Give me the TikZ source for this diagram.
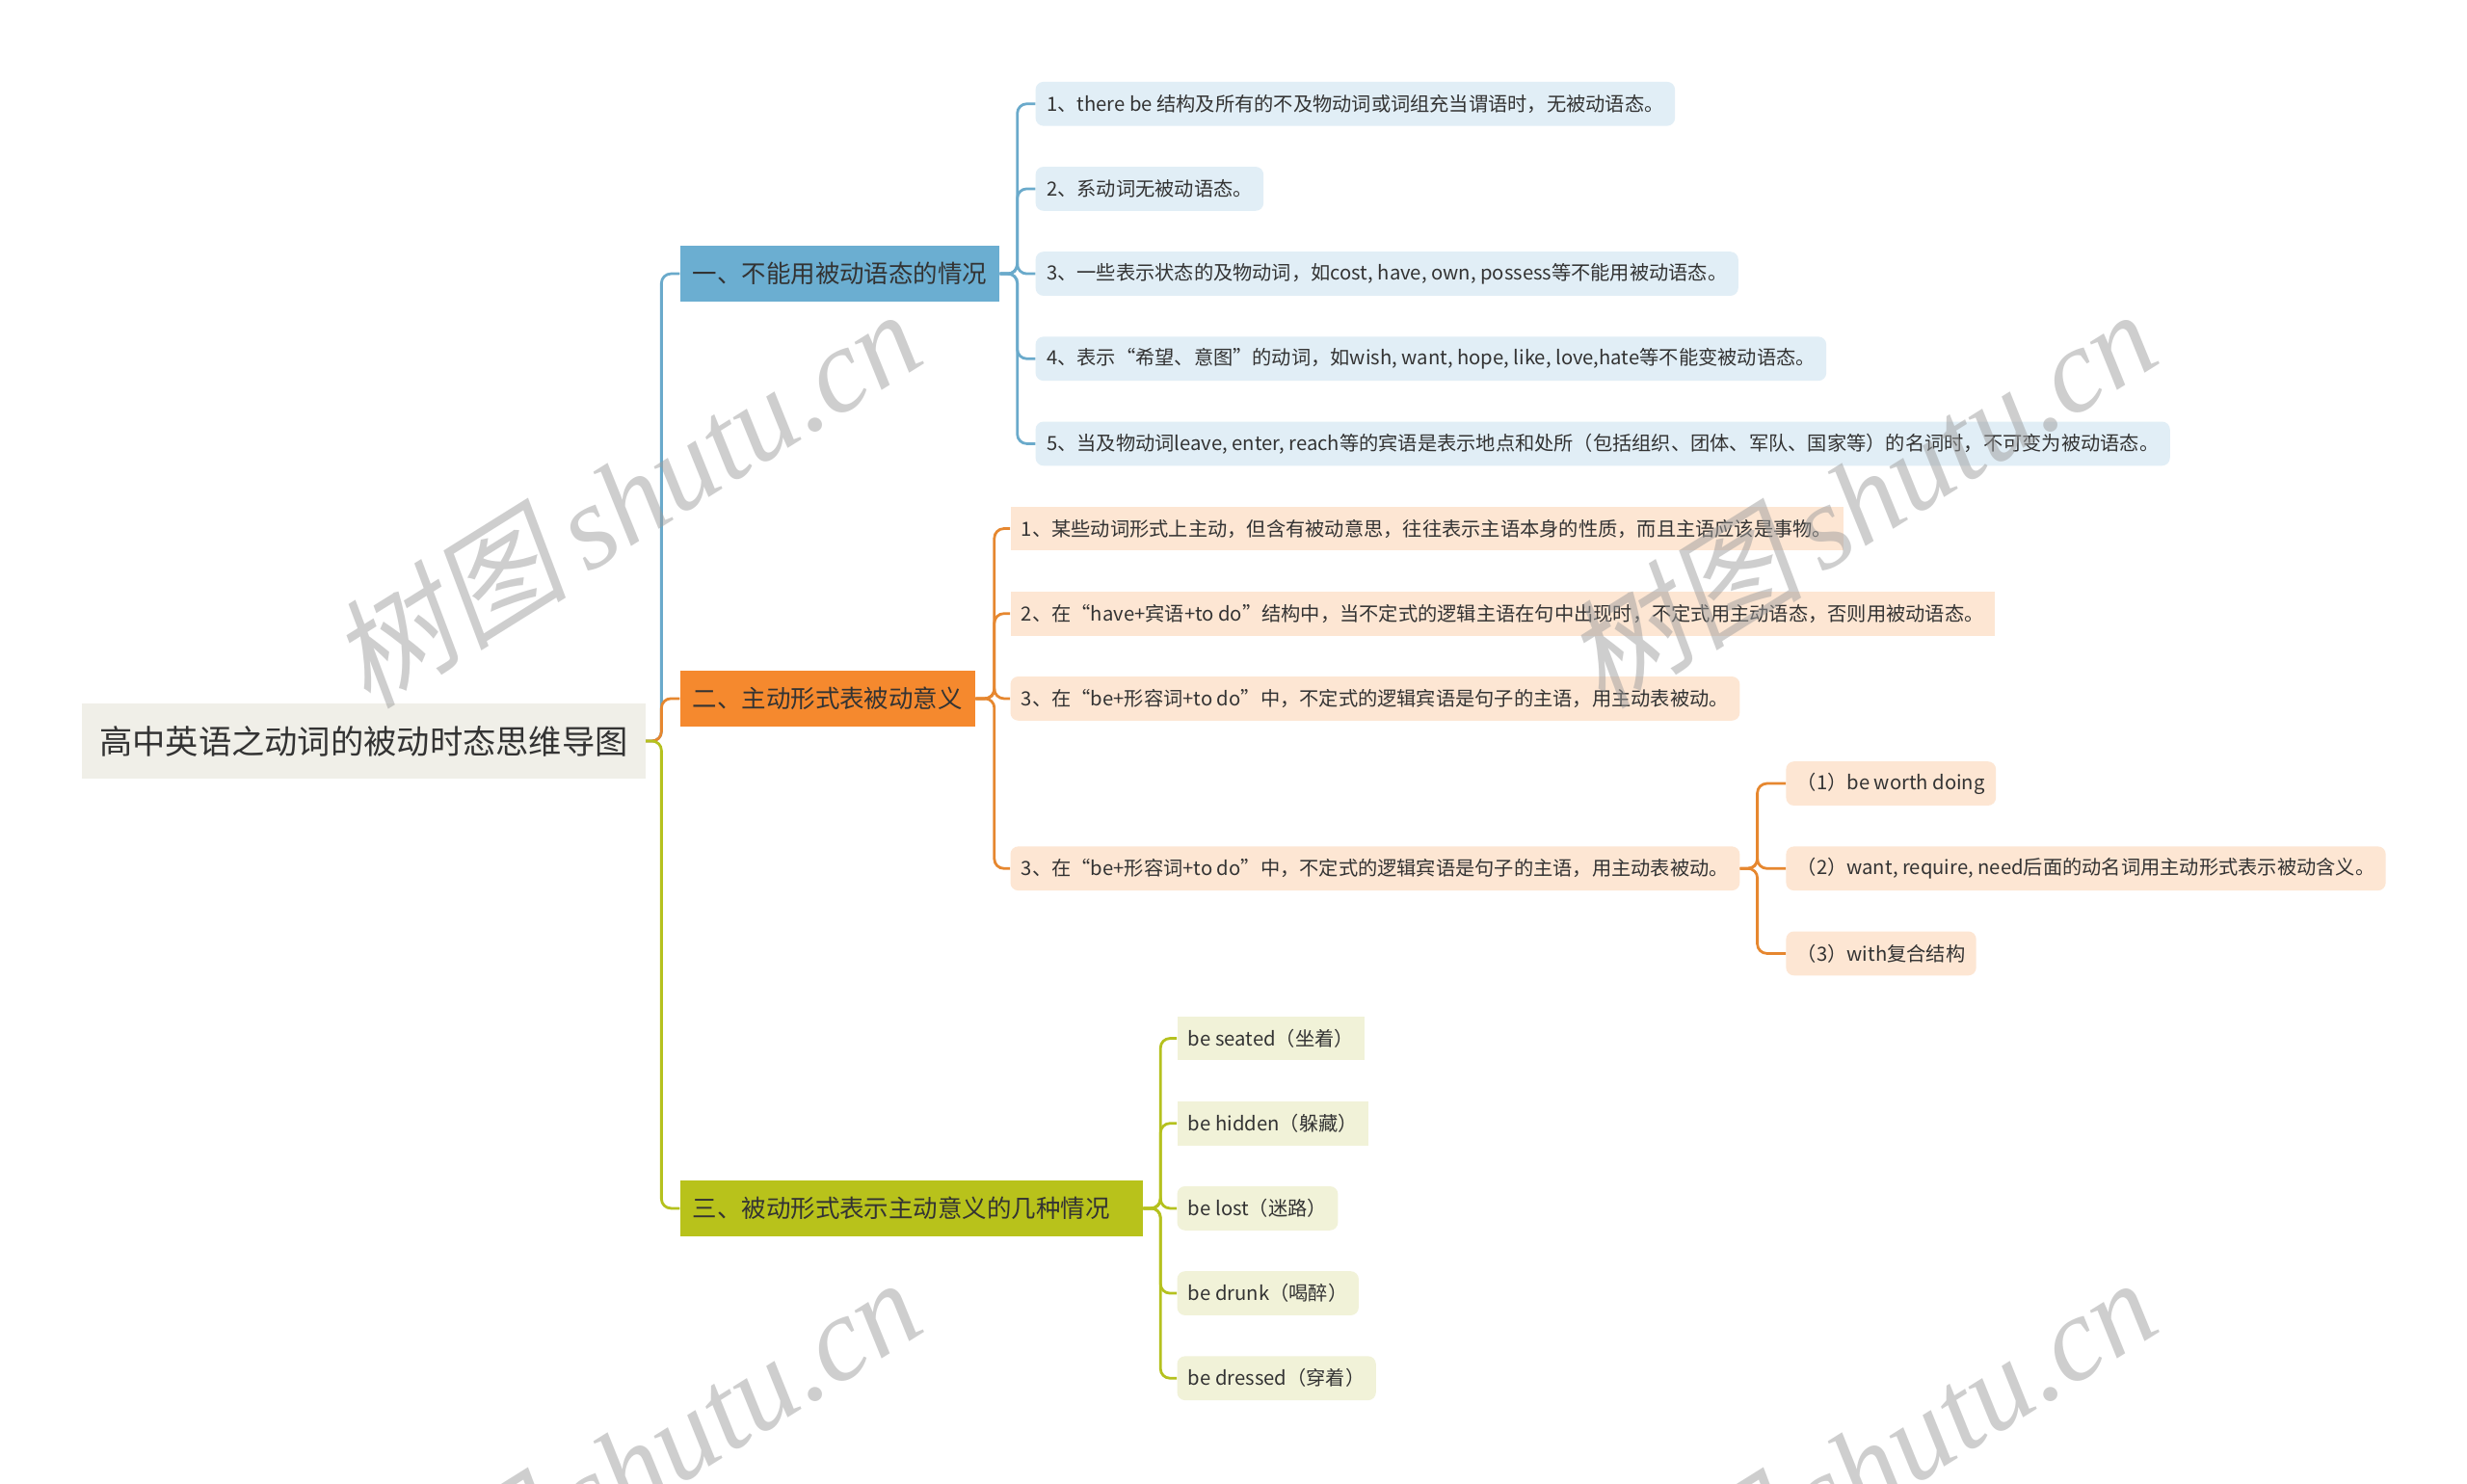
\documentclass[tikz,border=0pt]{standalone}
\usepackage{fontspec}
\setmainfont{Noto Sans CJK SC}
\newfontfamily\wmlatin{Liberation Serif}
\newfontfamily\wmcjk{Noto Sans CJK SC}[FakeSlant=0.2]
\definecolor{rootbg}{HTML}{F0EFE8}
\definecolor{bluebr}{HTML}{6BAED1}
\definecolor{bluech}{HTML}{E1EEF6}
\definecolor{bluel}{HTML}{6AAACB}
\definecolor{orgbr}{HTML}{F5892E}
\definecolor{orgch}{HTML}{FDE6D3}
\definecolor{orgl}{HTML}{E6872F}
\definecolor{olvbr}{HTML}{B8C21B}
\definecolor{olvch}{HTML}{F1F2D8}
\definecolor{olvl}{HTML}{B5C11E}
\definecolor{txt}{HTML}{333333}
\definecolor{wm}{HTML}{9E9E9E}
\tikzset{
  rootbox/.style={anchor=west, fill=rootbg, minimum height=48pt, inner xsep=11pt, inner ysep=0pt, text=txt, font=\fontsize{21}{24}\selectfont},
  brbox/.style={anchor=west, fill=#1, minimum height=36pt, inner xsep=8pt, inner ysep=0pt, text=txt, font=\fontsize{15.6}{18}\selectfont},
  chbox/.style={anchor=west, fill=#1, minimum height=28pt, inner xsep=7pt, inner ysep=0pt, rounded corners=5pt, text=txt, font=\fontsize{12.4}{14}\selectfont},
  sqbox/.style={chbox=#1, rounded corners=0pt},
  conn/.style={draw=#1, line width=1.7pt, rounded corners=6pt},
  wmark/.style={rotate=32, text=wm, text opacity=0.5}
}
\begin{document}
\begin{tikzpicture}[x=1pt,y=-1pt]
\useasboundingbox (0,0) rectangle (1568,943);
\fill[white] (0,0) rectangle (1568,943);

% root and branches
\node[rootbox] (root) at (52,471) {高中英语之动词的被动时态思维导图};
\node[brbox=bluebr] (b1) at (432,174) {一、不能用被动语态的情况};
\node[brbox=orgbr] (b2) at (432,444) {二、主动形式表被动意义};
\node[brbox=olvbr] (b3) at (432,768) {三、被动形式表示主动意义的几种情况\kern13pt\null};

% blue children
\node[chbox=bluech] (c11) at (658,66) {1、there be 结构及所有的不及物动词或词组充当谓语时，无被动语态。};
\node[chbox=bluech] (c12) at (658,120) {2、系动词无被动语态。};
\node[chbox=bluech] (c13) at (658,174) {3、一些表示状态的及物动词，如cost, have, own, possess等不能用被动语态。};
\node[chbox=bluech] (c14) at (658,228) {4、表示“希望、意图”的动词，如wish, want, hope, like, love,hate等不能变被动语态。};
\node[chbox=bluech] (c15) at (658,282) {5、当及物动词leave, enter, reach等的宾语是表示地点和处所（包括组织、团体、军队、国家等）的名词时，不可变为被动语态。};

% orange children
\node[sqbox=orgch] (c21) at (642,336) {1、某些动词形式上主动，但含有被动意思，往往表示主语本身的性质，而且主语应该是事物。};
\node[sqbox=orgch] (c22) at (642,390) {2、在“have+宾语+to do”结构中，当不定式的逻辑主语在句中出现时，不定式用主动语态，否则用被动语态。};
\node[chbox=orgch] (c23) at (642,444) {3、在“be+形容词+to do”中，不定式的逻辑宾语是句子的主语，用主动表被动。};
\node[chbox=orgch] (c24) at (642,552) {3、在“be+形容词+to do”中，不定式的逻辑宾语是句子的主语，用主动表被动。};
\node[chbox=orgch] (d1) at (1135,498) {（1）be worth doing};
\node[chbox=orgch] (d2) at (1135,552) {（2）want, require, need后面的动名词用主动形式表示被动含义。};
\node[chbox=orgch] (d3) at (1135,606) {（3）with复合结构};

% olive children
\node[sqbox=olvch] (c31) at (748,660) {be seated（坐着）};
\node[sqbox=olvch] (c32) at (748,714) {be hidden（躲藏）};
\node[chbox=olvch] (c33) at (748,768) {be lost（迷路）};
\node[chbox=olvch] (c34) at (748,822) {be drunk（喝醉）};
\node[chbox=olvch] (c35) at (748,876) {be dressed（穿着）};

% root connectors
\draw[conn=bluel] (root.east) -- ++(10,0) |- (b1.west);
\draw[conn=orgl] (root.east) -- ++(10,0) |- (b2.west);
\draw[conn=olvl] (root.east) -- ++(10,0) |- (b3.west);

% blue connectors
\foreach \c in {c11,c12,c13,c14,c15}
  \draw[conn=bluel] (b1.east) -- ++(11,0) |- (\c.west);
% orange connectors
\foreach \c in {c21,c22,c23,c24}
  \draw[conn=orgl] (b2.east) -- ++(12,0) |- (\c.west);
\foreach \c in {d1,d2,d3}
  \draw[conn=orgl] (c24.east) -- ++(11,0) |- (\c.west);
% olive connectors
\foreach \c in {c31,c32,c33,c34,c35}
  \draw[conn=olvl] (b3.east) -- ++(11,0) |- (\c.west);

% watermarks
\begin{scope}
\clip (0,0) rectangle (1568,943);
\node[wmark] (w1) at (397,316) {\fontsize{76}{80}\selectfont\wmcjk 树图\,\wmlatin\itshape shutu.cn};
\node[wmark] (w2) at (1182,316) {\fontsize{76}{80}\selectfont\wmcjk 树图\,\wmlatin\itshape shutu.cn};
\node[wmark] (w3) at (397,932) {\fontsize{76}{80}\selectfont\wmcjk 树图\,\wmlatin\itshape shutu.cn};
\node[wmark] (w4) at (1182,932) {\fontsize{76}{80}\selectfont\wmcjk 树图\,\wmlatin\itshape shutu.cn};
\end{scope}
\end{tikzpicture}
\end{document}
